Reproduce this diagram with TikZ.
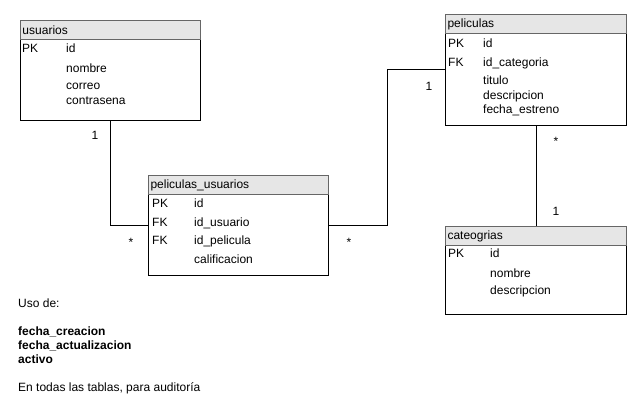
\documentclass[tikz,border=0pt]{standalone}
\usepackage{fontspec}
\setmainfont{Liberation Sans}
\usetikzlibrary{positioning}

\definecolor{bordecab}{HTML}{666666}
\definecolor{fondocab}{HTML}{E6E6E6}

\tikzset{
  cuerpo/.style={draw=black, fill=white, line width=1pt, anchor=north west, inner sep=0pt},
  cabecera/.style={draw=bordecab, fill=fondocab, line width=1pt, anchor=north west,
    minimum height=19pt, inner xsep=2pt, inner ysep=0pt, align=left},
  texto/.style={anchor=west, inner sep=0pt, text height=8.6pt, text depth=2.4pt},
  cardinal/.style={inner sep=0pt},
  relacion/.style={draw=black, line width=1pt},
}

\begin{document}
\begin{tikzpicture}[x=1pt, y=-1pt, font=\fontsize{12}{14}\selectfont]
\useasboundingbox (0,0) rectangle (641,411);

% usuarios
\node[cuerpo, minimum width=180pt, minimum height=100pt] (usu) at (20,20) {};
\node[cabecera, text width=176pt] (usuh) at (20,20) {usuarios};
\node[texto] (usupk) at (22,49) {PK};
\foreach \campo/\fy [count=\k] in {id/49, nombre/69, correo/86, contrasena/101}
  \node[texto] (usu-c\k) at (66,\fy) {\campo};

% peliculas_usuarios
\node[cuerpo, minimum width=180pt, minimum height=100pt] (pu) at (148,175) {};
\node[cabecera, text width=176pt] (puh) at (148,175) {peliculas\_usuarios};
\node[texto] (pupk) at (152,204) {PK};
\node[texto] (pufk1) at (152,223) {FK};
\node[texto] (pufk2) at (152,241) {FK};
\foreach \campo/\fy [count=\k] in {id/204, id\_usuario/223, id\_pelicula/241, calificacion/260}
  \node[texto] (pu-c\k) at (194,\fy) {\campo};

% peliculas
\node[cuerpo, minimum width=181pt, minimum height=111pt] (pel) at (445,14) {};
\node[cabecera, text width=177pt] (pelh) at (445,14) {peliculas};
\node[texto] (pelpk) at (448,44) {PK};
\node[texto] (pelfk) at (448,63) {FK};
\foreach \campo/\fy [count=\k] in {id/44, id\_categoria/63, titulo/81, descripcion/96, fecha\_estreno/110}
  \node[texto] (pel-c\k) at (483,\fy) {\campo};

% cateogrias
\node[cuerpo, minimum width=181pt, minimum height=88pt] (cat) at (445,226) {};
\node[cabecera, text width=177pt] (cath) at (445,226) {cateogrias};
\node[texto] (catpk) at (448,254) {PK};
\foreach \campo/\fy [count=\k] in {id/254, nombre/274, descripcion/291}
  \node[texto] (cat-c\k) at (490,\fy) {\campo};

% relaciones
\coordinate (codo) at (387,70);
\draw[relacion] (usu.south) |- (pu.west);
\draw[relacion] (pu.east) -| (codo) -- (codo -| pel.west);
\draw[relacion] (pel.south) -- (cat.north);

\node[cardinal] (c1) at (95,135) {1};
\node[cardinal] (c2) at (131,242) {*};
\node[cardinal] (c3) at (349,242) {*};
\node[cardinal] (c4) at (429,86) {1};
\node[cardinal] (c5) at (556,141) {*};
\node[cardinal] (c6) at (556,211) {1};

% nota
\node[texto] (uso) at (18,304) {Uso de:};
\node[texto, font=\fontsize{12}{14}\selectfont\bfseries] (f1) at (18,332) {fecha\_creacion};
\node[texto, font=\fontsize{12}{14}\selectfont\bfseries] (f2) at (18,346) {fecha\_actualizacion};
\node[texto, font=\fontsize{12}{14}\selectfont\bfseries] (f3) at (18,360) {activo};
\node[texto] (nota) at (18,388) {En todas las tablas, para auditoría};

\end{tikzpicture}
\end{document}
